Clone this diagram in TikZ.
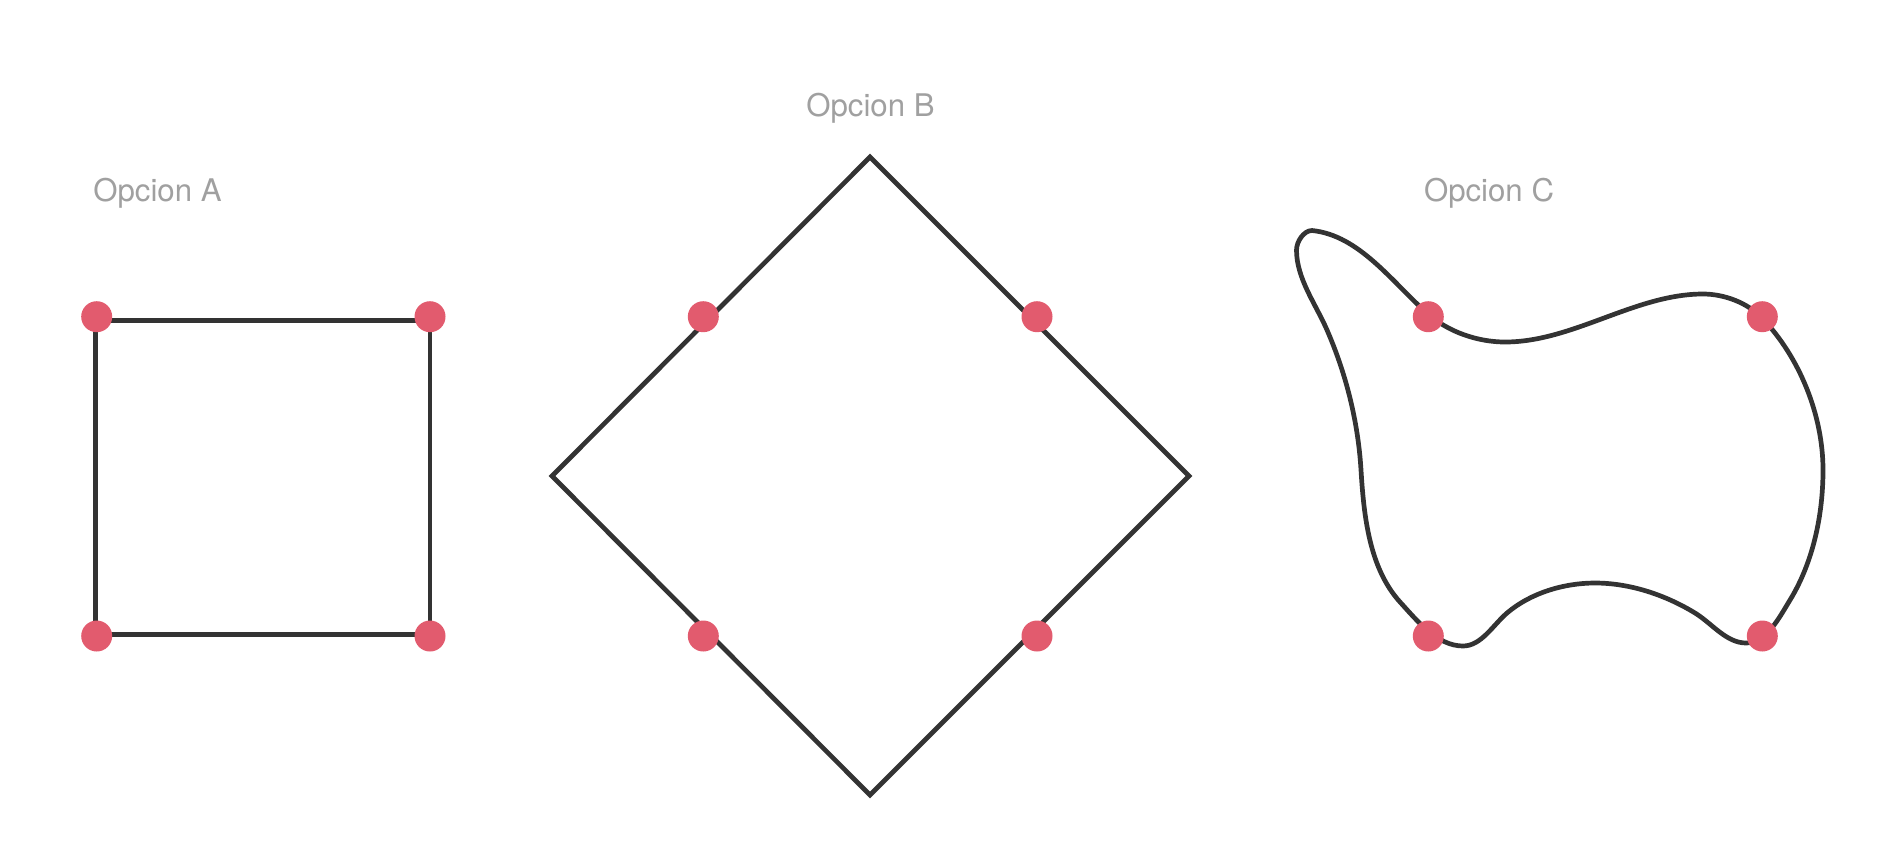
\documentclass[tikz,border=0pt]{standalone}
\usepackage{fontspec}
\setmainfont{TeX Gyre Heros}
\definecolor{linec}{HTML}{333333}
\definecolor{dotc}{HTML}{E25B6E}
\definecolor{labc}{HTML}{A0A0A0}
\begin{document}
\begin{tikzpicture}[x=0.5pt,y=-0.5pt,
  shape line/.style={draw=linec,line width=2.35pt,line join=miter},
  curve line/.style={draw=linec,line width=2.35pt,line join=round},
  dotnode/.style={circle,fill=dotc,draw=none,inner sep=0pt,minimum size=15.5pt},
  optlabel/.style={anchor=base,text=labc,font=\fontsize{15.6}{18}\selectfont,inner sep=0pt}]
\useasboundingbox (0,0) rectangle (1889,847);
% labels
\node[optlabel] (la) at (157.5,201.7) {Opcion A};
\node[optlabel] (lb) at (870.5,116.7) {Opcion B};
\node[optlabel] (lc) at (1489,201.7) {Opcion C};
% Option A
\draw[shape line] (95.7,320.7) rectangle (430,634.3);
% Option B
\draw[shape line] (870,157) -- (1189,476) -- (870,795) -- (552,476) -- cycle;
% Option C
\draw[curve line] (1428,314)
 .. controls (1448.5,332) and (1477.7,342) .. (1505,342)
 .. controls (1572.9,342) and (1635.1,294) .. (1703,294)
 .. controls (1724.2,294) and (1747.4,302.7) .. (1762,318)
 .. controls (1799.7,357.3) and (1823,415.4) .. (1823,470)
 .. controls (1823,514.7) and (1813.2,562) .. (1790,600)
 .. controls (1779.3,617.4) and (1766.5,643) .. (1746,643)
 .. controls (1726.3,643) and (1711.7,623.2) .. (1695,613)
 .. controls (1665.4,594.9) and (1629.8,583) .. (1595,583)
 .. controls (1564,583) and (1530.6,592.9) .. (1507,613)
 .. controls (1493.1,624.9) and (1481.3,646) .. (1463,646)
 .. controls (1437.4,646) and (1417.2,620.9) .. (1400,602)
 .. controls (1369.2,568) and (1363.8,515.9) .. (1361,470)
 .. controls (1358.1,422) and (1346.2,374.2) .. (1327,330)
 .. controls (1315.6,303.8) and (1296.5,278.5) .. (1296.5,250)
 .. controls (1296.5,241.7) and (1303.7,230.5) .. (1312,230.5)
 .. controls (1359.6,235.3) and (1392.3,282.6) .. cycle;
% dots
\node[dotnode] (a1) at (96.7,316.7) {};
\node[dotnode] (a2) at (430,316.7) {};
\node[dotnode] (a3) at (96.7,636) {};
\node[dotnode] (a4) at (430,636) {};
\node[dotnode] (b1) at (703.3,316.7) {};
\node[dotnode] (b2) at (1037,316.7) {};
\node[dotnode] (b3) at (703.3,636) {};
\node[dotnode] (b4) at (1037,636) {};
\node[dotnode] (c1) at (1428.3,316.7) {};
\node[dotnode] (c2) at (1762.3,316.7) {};
\node[dotnode] (c3) at (1428.3,636) {};
\node[dotnode] (c4) at (1762.3,636) {};
\end{tikzpicture}
\end{document}
